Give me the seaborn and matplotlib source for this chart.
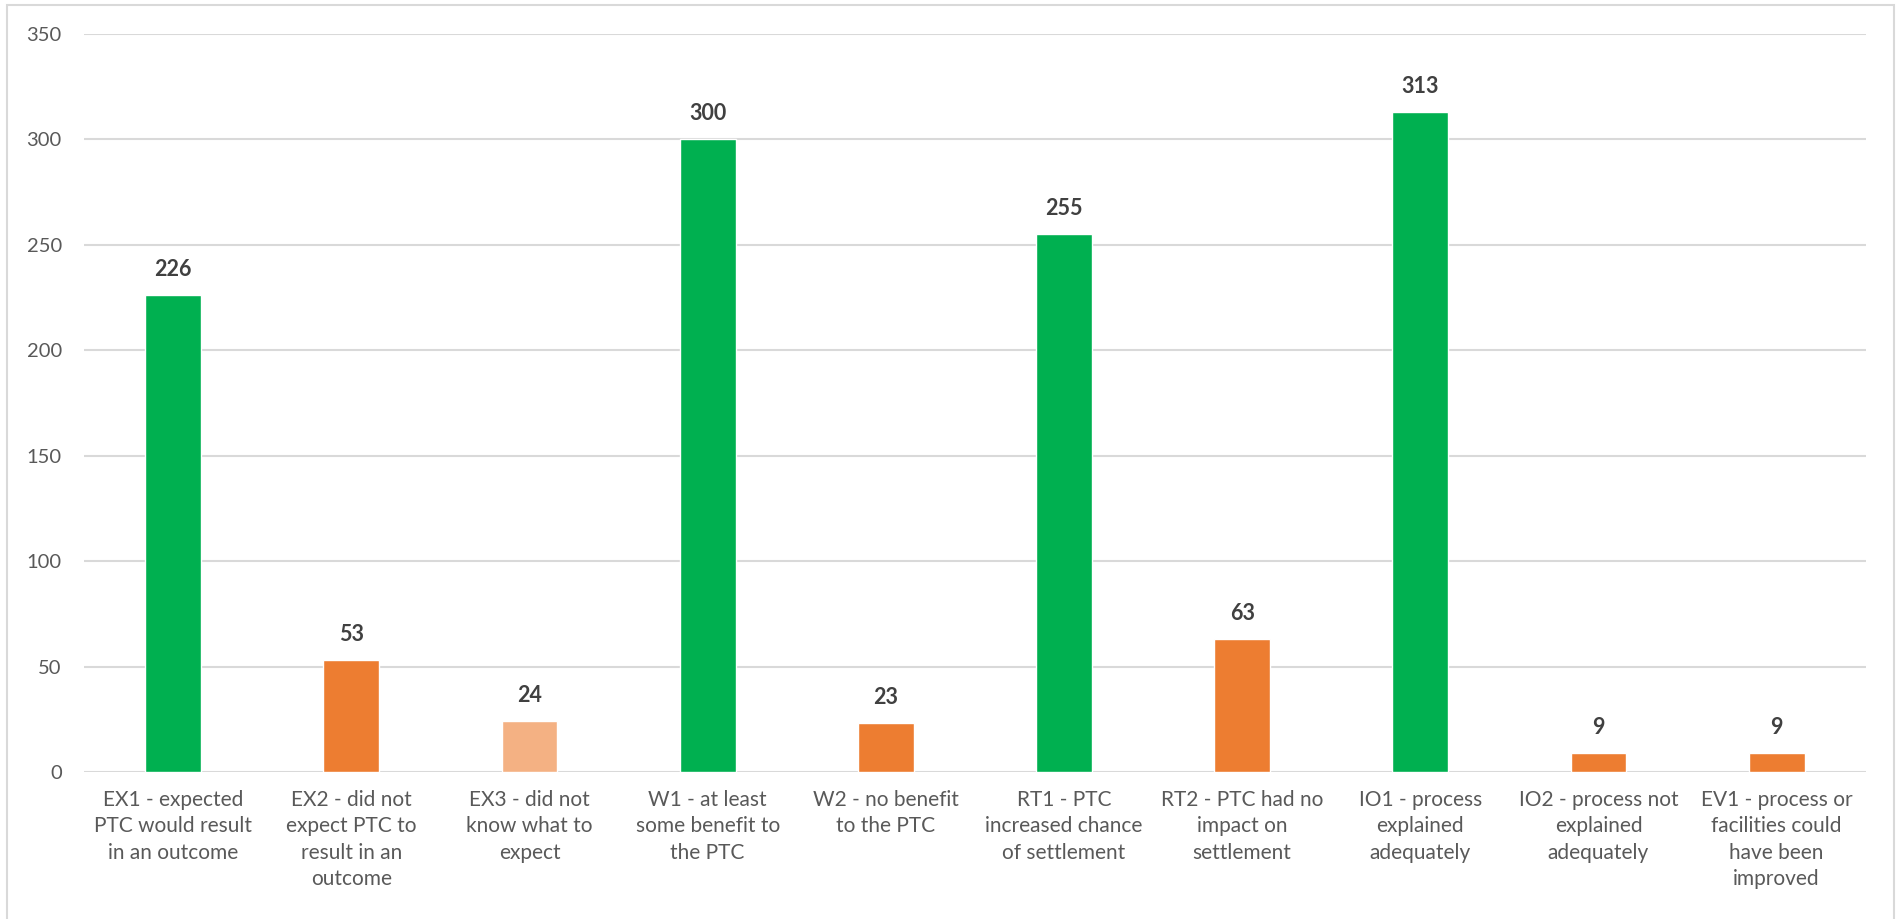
import matplotlib
matplotlib.use("Agg")
import matplotlib.pyplot as plt
import seaborn as sns
import pandas as pd
from matplotlib.patches import Rectangle

# categories / values
categories = [
    "EX1 - expected\nPTC would result\nin an outcome",
    "EX2 - did not\nexpect PTC to\nresult in an\noutcome",
    "EX3 - did not\nknow what to\nexpect",
    "W1 - at least\nsome benefit to\nthe PTC",
    "W2 - no benefit\nto the PTC",
    "RT1 - PTC\nincreased chance\nof settlement",
    "RT2 - PTC had no\nimpact on\nsettlement",
    "IO1 - process\nexplained\nadequately",
    "IO2 - process not\nexplained\nadequately",
    "EV1 - process or\nfacilities could\nhave been\nimproved",
]
counts = [226, 53, 24, 300, 23, 255, 63, 313, 9, 9]
groups = ["pos", "neg", "unsure", "pos", "neg", "pos", "neg", "pos", "neg", "neg"]
y_ticks = [0, 50, 100, 150, 200, 250, 300, 350]

colour_map = {"pos": "#00B050", "neg": "#ED7D31", "unsure": "#F4B183"}

df = pd.DataFrame({"category": categories, "count": counts, "group": groups})

sns.set_theme(style="white")
plt.rcParams["font.family"] = ["Lato", "DejaVu Sans"]

fig = plt.figure(figsize=(18.98, 9.19), dpi=100)
ax = fig.add_axes([0.0443, 0.16, 0.9387, 0.803])

sns.barplot(data=df, x="category", y="count", hue="category",
            palette=[colour_map[g] for g in groups], width=0.313,
            legend=False, saturation=1, ax=ax)

ax.set_ylim(0, 350)
ax.set_xlim(-0.5, len(categories) - 0.5)
ax.set_yticks(y_ticks)
ax.yaxis.grid(True, color="#D9D9D9", linewidth=1.5)
ax.set_axisbelow(True)
for s in ax.spines.values():
    s.set_visible(False)
ax.set_xlabel("")
ax.set_ylabel("")
ax.tick_params(axis="y", length=0, pad=16, labelsize=14.5, labelcolor="#595959")
ax.tick_params(axis="x", length=0, pad=13, labelsize=15, labelcolor="#595959")
for lab in ax.get_xticklabels():
    lab.set_linespacing(1.4)

for bar, v in zip(ax.patches, counts):
    ax.annotate(str(v), (bar.get_x() + bar.get_width() / 2, bar.get_height()),
                xytext=(0, 11), textcoords="offset points",
                ha="center", va="bottom", fontsize=15.5, fontweight="bold",
                color="#404040")

# chart area border
fig.patches.append(Rectangle((0.0037, -0.01), 0.9942, 1.0046, transform=fig.transFigure,
                             fill=False, edgecolor="#D9D9D9", linewidth=1.5))

fig.savefig("out.png", dpi=100)
